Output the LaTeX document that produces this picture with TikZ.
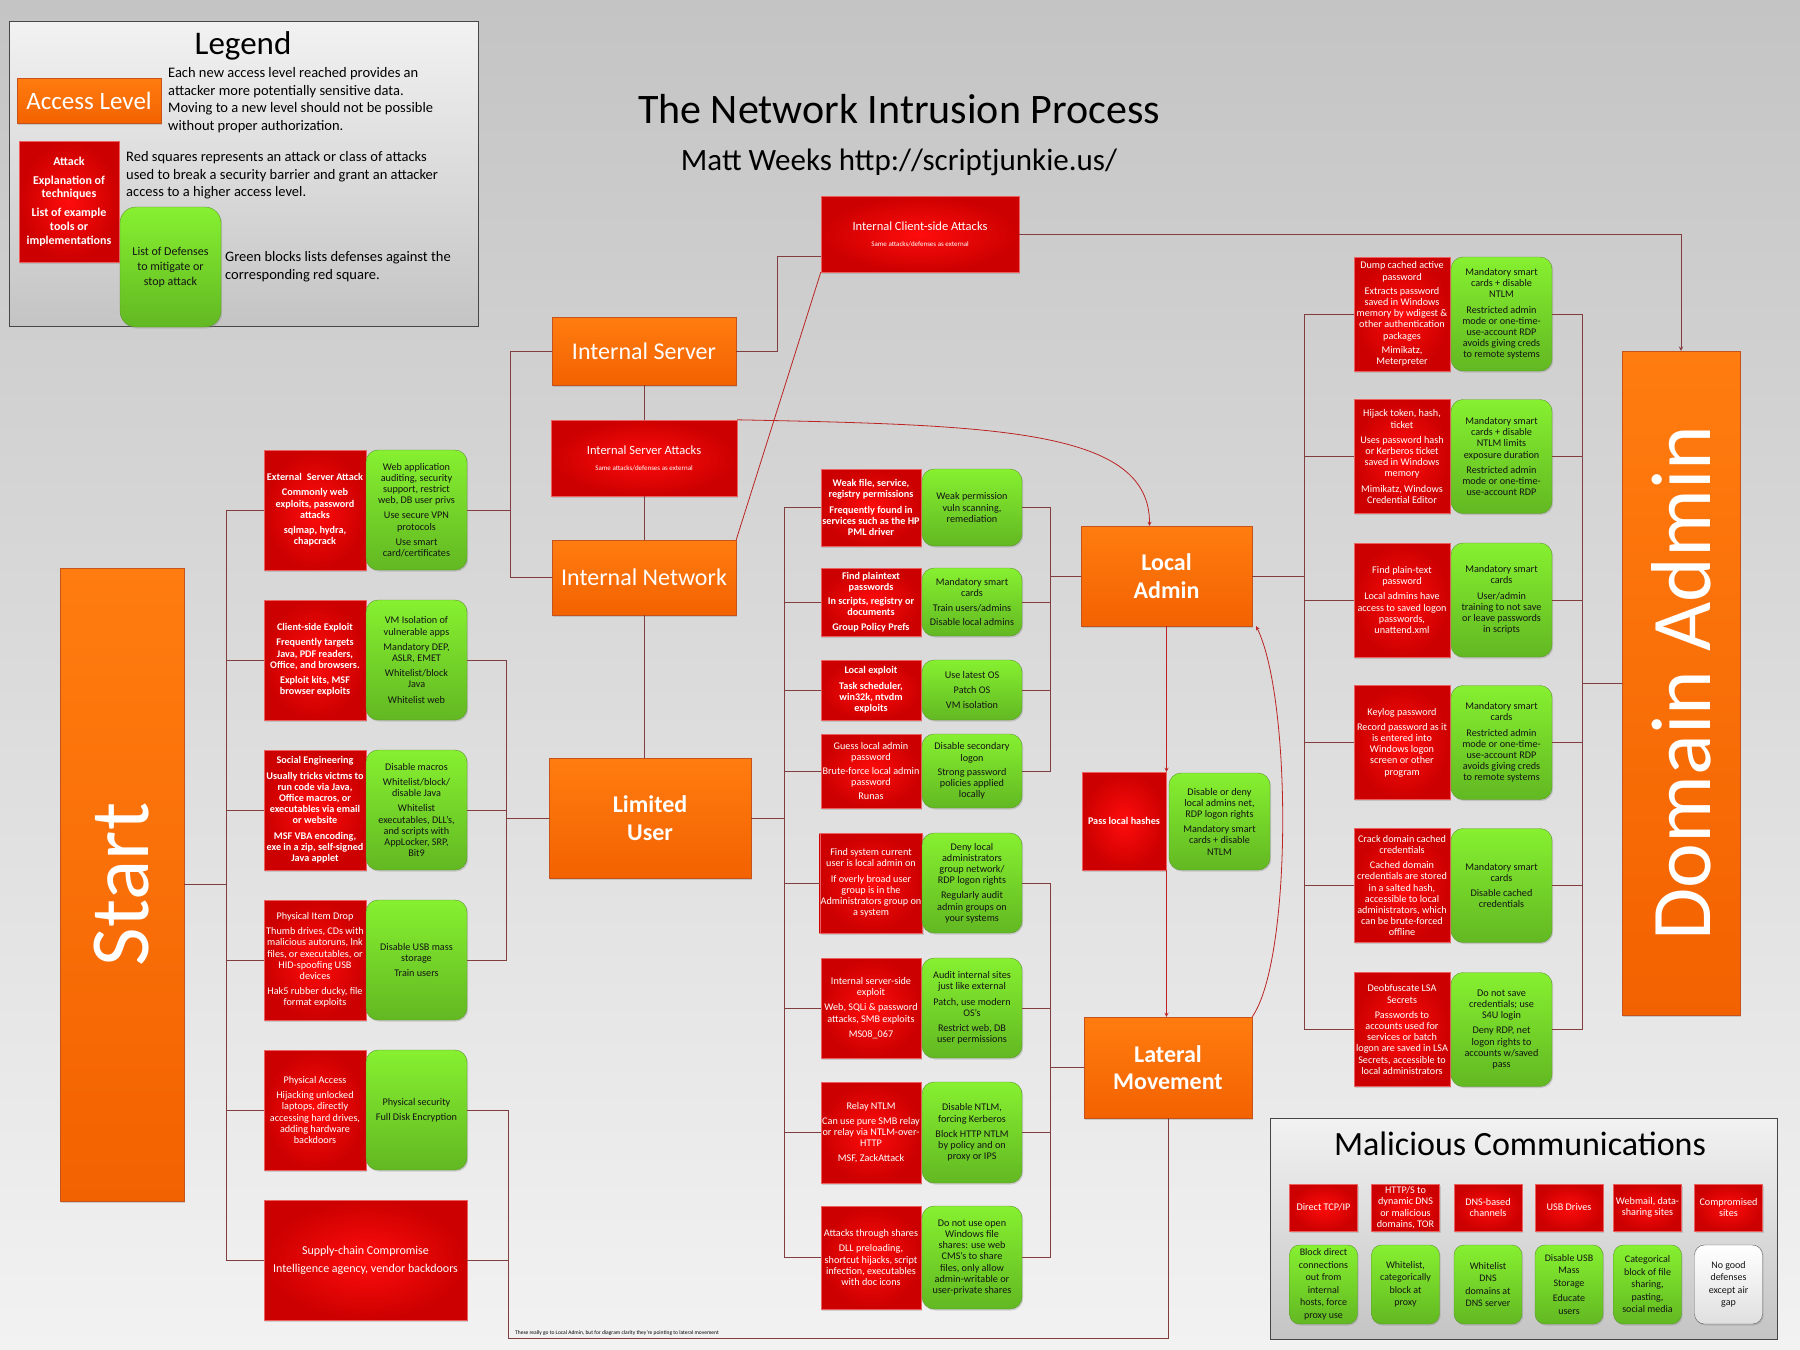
\documentclass[tikz,border=0pt]{standalone}
\usepackage{fontspec}
\setmainfont{Carlito}
\usetikzlibrary{shadows}

\definecolor{bgtop}{RGB}{196,196,196}
\definecolor{bgbot}{RGB}{242,242,242}
\definecolor{paneltop}{RGB}{242,242,242}
\definecolor{panelbot}{RGB}{196,196,196}
\definecolor{lvltop}{RGB}{255,124,16}
\definecolor{lvlbot}{RGB}{243,98,0}
\definecolor{lvlline}{RGB}{196,84,28}
\definecolor{atkin}{RGB}{255,12,12}
\definecolor{atkout}{RGB}{204,0,0}
\definecolor{atkline}{RGB}{236,96,96}
\definecolor{deftop}{RGB}{134,240,48}
\definecolor{defbot}{RGB}{98,184,34}
\definecolor{defline}{RGB}{96,150,48}
\definecolor{deftext}{RGB}{20,20,20}
\definecolor{linkbrown}{RGB}{128,62,62}
\definecolor{flowred}{RGB}{188,36,36}

\begin{document}
\begin{tikzpicture}[x=1pt, y=-1pt, >=stealth,
    soft/.style={drop shadow={opacity=0.3, shadow xshift=1.2pt, shadow yshift=-1.5pt}},
    level/.style={rectangle, draw=lvlline, top color=lvltop, bottom color=lvlbot, text=white, align=center, inner sep=0pt, font=\fontsize{24}{27.5}\selectfont, soft},
    attack/.style={rectangle, draw=atkline, inner color=atkin, outer color=atkout, text=white, align=center, inner sep=1pt, font=\fontsize{10.2}{11.2}\selectfont, soft},
    defense/.style={rectangle, rounded corners=12pt, draw=defline, top color=deftop, bottom color=defbot, text=deftext, align=center, inner sep=1pt, font=\fontsize{10.2}{11.2}\selectfont, soft},
    heavy/.style={font=\fontsize{10.2}{11.2}\selectfont\bfseries},
    panel/.style={rectangle, draw=gray!55!black, top color=paneltop, bottom color=panelbot},
    legtext/.style={anchor=north west, align=left, inner sep=0pt, font=\fontsize{14.5}{17.8}\selectfont},
    link/.style={draw=linkbrown, line width=0.9pt},
    flow/.style={draw=flowred, line width=0.8pt}
]

\shade[top color=bgtop, bottom color=bgbot] (0,0) rectangle (1800,1350);
\useasboundingbox (0,0) rectangle (1800,1350);

% Legend
\node[panel, minimum width=469pt, minimum height=305pt] (legend) at (243.5,173.5) {};
\node[font=\fontsize{33}{36}\selectfont] (legtitle) at (243,46) {Legend};
\node[level, minimum width=144pt, minimum height=45pt, font=\fontsize{25}{28}\selectfont] (legaccess) at (89,100.5) {Access Level};
\node[legtext] (legaccesstxt) at (168,67) {Each new access level reached provides an\\ attacker more potentially sensitive data.\\ Moving to a new level should not be possible\\ without proper authorization.};
\node[attack, minimum width=100pt, minimum height=121pt, font=\fontsize{12}{13.7}\selectfont\bfseries] (legattack) at (69,201.5) {Attack\\[5pt] Explanation of\\ techniques\\[5pt] List of example\\ tools or\\ implementations};
\node[legtext] (legattacktxt) at (126,151) {Red squares represents an attack or class of attacks\\ used to break a security barrier and grant an attacker\\ access to a higher access level.};
\node[defense, minimum width=101pt, minimum height=120pt, rounded corners=16pt, font=\fontsize{12}{15}\selectfont] (legdefense) at (170.5,267) {List of Defenses\\ to mitigate or\\ stop attack};
\node[legtext] (legdefensetxt) at (225,251) {Green blocks lists defenses against the\\ corresponding red square.};

% Title
\node[font=\fontsize{42}{46}\selectfont] (title) at (899,109) {The Network Intrusion Process};
\node[font=\fontsize{31}{34}\selectfont] (author) at (899,162) {Matt Weeks http://scriptjunkie.us/};

% Access levels
\node[level, minimum width=124pt, minimum height=633pt, font=\fontsize{84}{90}\selectfont] (start) at (122,884.5) {\rotatebox{90}{Start}};
\node[level, minimum width=184pt, minimum height=68pt] (intsrv) at (644,351) {Internal Server};
\node[level, minimum width=184pt, minimum height=75pt] (intnet) at (644,577.5) {Internal Network};
\node[level, minimum width=202pt, minimum height=120pt, font=\fontsize{24}{27.5}\selectfont\bfseries] (limited) at (650,818) {Limited\\ User};
\node[level, minimum width=171pt, minimum height=100pt, font=\fontsize{24}{27.5}\selectfont\bfseries] (locadmin) at (1166.5,576) {Local\\ Admin};
\node[level, minimum width=168pt, minimum height=101pt, font=\fontsize{24}{27.5}\selectfont\bfseries] (latmove) at (1168,1067.5) {Lateral\\ Movement};
\node[level, minimum width=118pt, minimum height=664pt, font=\fontsize{85}{90}\selectfont] (domadmin) at (1681,683) {\rotatebox{90}{Domain Admin}};

% Internal attacks
\node[attack, minimum width=186pt, minimum height=76pt, font=\fontsize{12.5}{14}\selectfont] (intsrvatk) at (644,458) {Internal Server Attacks\\[2pt] {\fontsize{7}{8}\selectfont Same attacks/defenses as external}};
\node[attack, minimum width=198pt, minimum height=76pt, font=\fontsize{12.5}{14}\selectfont] (intcliatk) at (920,234) {Internal Client-side Attacks\\[2pt] {\fontsize{7}{8}\selectfont Same attacks/defenses as external}};

% Initial attacks
\node[attack, heavy, minimum width=102pt, minimum height=120pt] (extatk) at (315,510) {External\enspace Server Attack\\[4pt] Commonly web\\ exploits, password\\ attacks\\[4pt] sqlmap, hydra,\\ chapcrack};
\node[defense, minimum width=101pt, minimum height=120pt] (extdef) at (416.5,510) {Web application\\ auditing, security\\ support, restrict\\ web, DB user privs\\[4pt] Use secure VPN\\ protocols\\[4pt] Use smart\\ card/certificates};
\node[attack, heavy, minimum width=102pt, minimum height=120pt] (cliatk) at (315,660) {Client-side Exploit\\[4pt] Frequently targets\\ Java, PDF readers,\\ Office, and browsers.\\[4pt] Exploit kits, MSF\\ browser exploits};
\node[defense, minimum width=101pt, minimum height=120pt] (clidef) at (416.5,660) {VM Isolation of\\ vulnerable apps\\[4pt] Mandatory DEP,\\ ASLR, EMET\\[4pt] Whitelist/block\\ Java\\[4pt] Whitelist web};
\node[attack, heavy, minimum width=102pt, minimum height=120pt] (socatk) at (315,810) {Social Engineering\\[4pt] Usually tricks victms to\\ run code via Java,\\ Office macros, or\\ executables via email\\ or website\\[4pt] MSF VBA encoding,\\ exe in a zip, self-signed\\ Java applet};
\node[defense, minimum width=101pt, minimum height=120pt] (socdef) at (416.5,810) {Disable macros\\[4pt] Whitelist/block/\\ disable Java\\[4pt] Whitelist\\ executables, DLL's,\\ and scripts with\\ AppLocker, SRP,\\ Bit9};
\node[attack, minimum width=102pt, minimum height=120pt] (dropatk) at (315,960) {Physical Item Drop\\[4pt] Thumb drives, CDs with\\ malicious autoruns, lnk\\ files, or executables, or\\ HID-spoofing USB\\ devices\\[4pt] Hak5 rubber ducky, file\\ format exploits};
\node[defense, minimum width=101pt, minimum height=120pt] (dropdef) at (416.5,960) {Disable USB mass\\ storage\\[4pt] Train users};
\node[attack, minimum width=102pt, minimum height=120pt] (physatk) at (315,1110) {Physical Access\\[4pt] Hijacking unlocked\\ laptops, directly\\ accessing hard drives,\\ adding hardware\\ backdoors};
\node[defense, minimum width=101pt, minimum height=120pt] (physdef) at (416.5,1110) {Physical security\\[4pt] Full Disk Encryption};
\node[attack, minimum width=203pt, minimum height=120pt, font=\fontsize{12}{18}\selectfont] (supply) at (365.5,1260) {Supply-chain Compromise\\ Intelligence agency, vendor backdoors};

% Attacks from limited user
\node[attack, heavy, minimum width=100pt, minimum height=77pt] (permatk) at (871,507.5) {Weak file, service,\\ registry permissions\\[4pt] Frequently found in\\ services such as the HP\\ PML driver};
\node[defense, minimum width=100pt, minimum height=77pt] (permdef) at (972,507.5) {Weak permission\\ vuln scanning,\\ remediation};
\node[attack, heavy, minimum width=100pt, minimum height=68pt] (plainatk) at (871,602) {Find plaintext\\ passwords\\[3pt] In scripts, registry or\\ documents\\[3pt] Group Policy Prefs};
\node[defense, minimum width=100pt, minimum height=68pt] (plaindef) at (972,602) {Mandatory smart\\ cards\\[3pt] Train users/admins\\[3pt] Disable local admins};
\node[attack, heavy, minimum width=100pt, minimum height=60pt] (lexpatk) at (871,690) {Local exploit\\[4pt] Task scheduler,\\ win32k, ntvdm\\ exploits};
\node[defense, minimum width=100pt, minimum height=60pt] (lexpdef) at (972,690) {Use latest OS\\[4pt] Patch OS\\[4pt] VM isolation};
\node[attack, minimum width=100pt, minimum height=74pt] (guessatk) at (871,771) {Guess local admin\\ password\\[3pt] Brute-force local admin\\ password\\[3pt] Runas};
\node[defense, minimum width=100pt, minimum height=74pt] (guessdef) at (972,771) {Disable secondary\\ logon\\[3pt] Strong password\\ policies applied\\ locally};
\node[attack, minimum width=100pt, minimum height=100pt] (curatk) at (871,883) {Find system current\\ user is local admin on\\[4pt] If overly broad user\\ group is in the\\ Administrators group on\\ a system};
\node[defense, minimum width=100pt, minimum height=100pt] (curdef) at (972,883) {Deny local\\ administrators\\ group network/\\ RDP logon rights\\[4pt] Regularly audit\\ admin groups on\\ your systems};
\node[attack, minimum width=100pt, minimum height=100pt] (srvxatk) at (871,1008) {Internal server-side\\ exploit\\[4pt] Web, SQLi \& password\\ attacks, SMB exploits\\[4pt] MS08\_067};
\node[defense, minimum width=100pt, minimum height=100pt] (srvxdef) at (972,1008) {Audit internal sites\\ just like external\\[4pt] Patch, use modern\\ OS's\\[4pt] Restrict web, DB\\ user permissions};
\node[attack, minimum width=100pt, minimum height=101pt] (relayatk) at (871,1132.5) {Relay NTLM\\[4pt] Can use pure SMB relay\\ or relay via NTLM-over-\\ HTTP\\[4pt] MSF, ZackAttack};
\node[defense, minimum width=100pt, minimum height=101pt] (relaydef) at (972,1132.5) {Disable NTLM,\\ forcing Kerberos\\[4pt] Block HTTP NTLM\\ by policy and on\\ proxy or IPS};
\node[attack, minimum width=100pt, minimum height=103pt] (shareatk) at (871,1257.5) {Attacks through shares\\[4pt] DLL preloading,\\ shortcut hijacks, script\\ infection, executables\\ with doc icons};
\node[defense, minimum width=100pt, minimum height=103pt] (sharedef) at (972,1257.5) {Do not use open\\ Windows file\\ shares: use web\\ CMS's to share\\ files, only allow\\ admin-writable or\\ user-private shares};

% Pass local hashes
\node[attack, heavy, minimum width=84pt, minimum height=98pt] (passatk) at (1124,821) {Pass local hashes};
\node[defense, minimum width=101pt, minimum height=97pt] (passdef) at (1219.5,821.5) {Disable or deny\\ local admins net,\\ RDP logon rights\\[4pt] Mandatory smart\\ cards + disable\\ NTLM};

% Attacks from local admin
\node[attack, minimum width=96pt, minimum height=114pt] (dumpatk) at (1402,314) {Dump cached active\\ password\\[3pt] Extracts password\\ saved in Windows\\ memory by wdigest \&\\ other authentication\\ packages\\[3pt] Mimikatz,\\ Meterpreter};
\node[defense, minimum width=101pt, minimum height=114pt] (dumpdef) at (1501.5,314) {Mandatory smart\\ cards + disable\\ NTLM\\[4pt] Restricted admin\\ mode or one-time-\\ use-account RDP\\ avoids giving creds\\ to remote systems};
\node[attack, minimum width=96pt, minimum height=114pt] (tokenatk) at (1402,456.5) {Hijack token, hash,\\ ticket\\[4pt] Uses password hash\\ or Kerberos ticket\\ saved in Windows\\ memory\\[4pt] Mimikatz, Windows\\ Credential Editor};
\node[defense, minimum width=101pt, minimum height=114pt] (tokendef) at (1501.5,456.5) {Mandatory smart\\ cards + disable\\ NTLM limits\\ exposure duration\\[4pt] Restricted admin\\ mode or one-time-\\ use-account RDP};
\node[attack, minimum width=96pt, minimum height=114pt] (ptextatk) at (1402,600) {Find plain-text\\ password\\[4pt] Local admins have\\ access to saved logon\\ passwords,\\ unattend.xml};
\node[defense, minimum width=101pt, minimum height=114pt] (ptextdef) at (1501.5,600) {Mandatory smart\\ cards\\[4pt] User/admin\\ training to not save\\ or leave passwords\\ in scripts};
\node[attack, minimum width=96pt, minimum height=114pt] (keylogatk) at (1402,742.5) {Keylog password\\[4pt] Record password as it\\ is entered into\\ Windows logon\\ screen or other\\ program};
\node[defense, minimum width=101pt, minimum height=114pt] (keylogdef) at (1501.5,742.5) {Mandatory smart\\ cards\\[4pt] Restricted admin\\ mode or one-time-\\ use-account RDP\\ avoids giving creds\\ to remote systems};
\node[attack, minimum width=96pt, minimum height=114pt] (crackatk) at (1402,885.5) {Crack domain cached\\ credentials\\[4pt] Cached domain\\ credentials are stored\\ in a salted hash,\\ accessible to local\\ administrators, which\\ can be brute-forced\\ offline};
\node[defense, minimum width=101pt, minimum height=114pt] (crackdef) at (1501.5,885.5) {Mandatory smart\\ cards\\[4pt] Disable cached\\ credentials};
\node[attack, minimum width=96pt, minimum height=114pt] (lsaatk) at (1402,1029.5) {Deobfuscate LSA\\ Secrets\\[4pt] Passwords to\\ accounts used for\\ services or batch\\ logon are saved in LSA\\ Secrets, accessible to\\ local administrators};
\node[defense, minimum width=101pt, minimum height=114pt] (lsadef) at (1501.5,1029.5) {Do not save\\ credentials; use\\ S4U login\\[4pt] Deny RDP, net\\ logon rights to\\ accounts w/saved\\ pass};

% Malicious communications
\node[panel, minimum width=507pt, minimum height=221pt] (malbox) at (1523.5,1228.5) {};
\node[font=\fontsize{34}{37}\selectfont] (maltitle) at (1520,1144) {Malicious Communications};
\node[attack, minimum width=68pt, minimum height=47pt] (tcpatk) at (1323.5,1207.5) {Direct TCP/IP};
\node[attack, minimum width=68pt, minimum height=47pt] (httpatk) at (1405.5,1207.5) {HTTP/S to\\ dynamic DNS\\ or malicious\\ domains, TOR};
\node[attack, minimum width=68pt, minimum height=47pt] (dnsatk) at (1488,1207.5) {DNS-based\\ channels};
\node[attack, minimum width=68pt, minimum height=47pt] (usbatk) at (1569,1207.5) {USB Drives};
\node[attack, minimum width=68pt, minimum height=47pt] (webmailatk) at (1647.5,1207.5) {Webmail, data-\\ sharing sites};
\node[attack, minimum width=68pt, minimum height=47pt] (compatk) at (1728.5,1207.5) {Compromised\\ sites};
\node[defense, rounded corners=10pt, minimum width=68pt, minimum height=79pt, font=\fontsize{10}{12.5}\selectfont] (tcpdef) at (1323.5,1284.5) {Block direct\\ connections\\ out from\\ internal\\ hosts, force\\ proxy use};
\node[defense, rounded corners=10pt, minimum width=68pt, minimum height=79pt, font=\fontsize{10}{12.5}\selectfont] (httpdef) at (1405.5,1284.5) {Whitelist,\\ categorically\\ block at\\ proxy};
\node[defense, rounded corners=10pt, minimum width=68pt, minimum height=79pt, font=\fontsize{10}{12.5}\selectfont] (dnsdef) at (1488,1284.5) {Whitelist\\ DNS\\ domains at\\ DNS server};
\node[defense, rounded corners=10pt, minimum width=68pt, minimum height=79pt, font=\fontsize{10}{12.5}\selectfont] (usbdef) at (1569,1284.5) {Disable USB\\ Mass\\ Storage\\[3pt] Educate\\ users};
\node[defense, rounded corners=10pt, minimum width=68pt, minimum height=79pt, font=\fontsize{10}{12.5}\selectfont] (webmaildef) at (1647.5,1284.5) {Categorical\\ block of file\\ sharing,\\ pasting,\\ social media};
\node[defense, rounded corners=10pt, draw=gray!70!black, top color=white, bottom color=gray!25, minimum width=68pt, minimum height=79pt, font=\fontsize{10}{12.5}\selectfont] (compdef) at (1728.5,1284.5) {No good\\ defenses\\ except air\\ gap};

% Start to initial attacks
\draw[link] (start.east) -- (226,884.5) coordinate (startbus);
\draw[link] (startbus |- extatk.west) -- (startbus |- supply.west);
\draw[link] (startbus |- extatk.west) -- (extatk.west);
\draw[link] (startbus |- cliatk.west) -- (cliatk.west);
\draw[link] (startbus |- socatk.west) -- (socatk.west);
\draw[link] (startbus |- dropatk.west) -- (dropatk.west);
\draw[link] (startbus |- physatk.west) -- (physatk.west);
\draw[link] (startbus |- supply.west) -- (supply.west);

% Initial attacks to next levels
\coordinate (srvbus) at (510,0);
\draw[link] (extdef.east) -- (srvbus |- extdef.east);
\draw[link] (intsrv.west) -| (srvbus |- intnet.west) -- (intnet.west);
\coordinate (userbus) at (506,0);
\draw[link] (clidef.east) -| (userbus |- dropdef.east) -- (dropdef.east);
\draw[link] (socdef.east) -- (userbus |- socdef.east);
\draw[link] (userbus |- limited.west) -- (limited.west);
\coordinate (lowbus) at (508,1338);
\draw[link] (physdef.east) -| (lowbus) -| (latmove.south);
\draw[link] (supply.east) -- (lowbus |- supply.east);
\node[anchor=south west, inner sep=0pt, font=\fontsize{5.5}{6}\selectfont] (note) at (515,1336) {These really go to Local Admin, but for diagram clarity they're pointing to lateral movement};

% Internal levels
\draw[link] (intsrv) -- (intsrvatk);
\draw[link] (intsrvatk) -- (intnet);
\draw[link] (intnet.south) -- (intnet.south |- limited.north);
\draw[link] (intsrv.east) -| (777,256) -- ([yshift=-22pt]intcliatk.west);
\draw[link,->] (intcliatk.east) -| (domadmin.north);
\draw[flow] (intnet.north east) -- (intcliatk.south west);
\draw[flow,->] (intsrvatk.north east) .. controls (1000,425) and (1150,430) .. ([xshift=-17pt]locadmin.north);

% Limited user to attacks
\draw[link] (limited.east) -- (784,818) coordinate (midbus);
\draw[link] (midbus |- permatk.west) -- (midbus |- shareatk.west);
\draw[link] (midbus |- permatk.west) -- (permatk.west);
\draw[link] (midbus |- plainatk.west) -- (plainatk.west);
\draw[link] (midbus |- lexpatk.west) -- (lexpatk.west);
\draw[link] (midbus |- guessatk.west) -- (guessatk.west);
\draw[link] (midbus |- curatk.west) -- (curatk.west);
\draw[link] (midbus |- srvxatk.west) -- (srvxatk.west);
\draw[link] (midbus |- relayatk.west) -- (relayatk.west);
\draw[link] (midbus |- shareatk.west) -- (shareatk.west);

% Attacks to local admin / lateral movement
\coordinate (ladbus) at (1050,0);
\draw[link] (permdef.east) -| (ladbus |- guessdef.east) -- (guessdef.east);
\draw[link] (plaindef.east) -- (ladbus |- plaindef.east);
\draw[link] (lexpdef.east) -- (ladbus |- lexpdef.east);
\draw[link] (ladbus |- locadmin.west) -- (locadmin.west);
\draw[link] (curdef.east) -| (ladbus |- sharedef.east) -- (sharedef.east);
\draw[link] (srvxdef.east) -- (ladbus |- srvxdef.east);
\draw[link] (relaydef.east) -- (ladbus |- relaydef.east);
\draw[link] (ladbus |- latmove.west) -- (latmove.west);

% Local admin and lateral movement
\draw[flow,->] (locadmin.south) -- (locadmin.south |- passatk.north);
\draw[flow,->] (locadmin.south |- passatk.south) -- (locadmin.south |- latmove.north);
\draw[flow,->] (latmove.north east) .. controls (1292,960) and (1292,700) .. ([xshift=4pt]locadmin.south east);

% Local admin to domain admin
\draw[link] (locadmin.east) -- (1304,576) coordinate (dabus);
\draw[link] (dabus |- dumpatk.west) -- (dabus |- lsaatk.west);
\draw[link] (dabus |- dumpatk.west) -- (dumpatk.west);
\draw[link] (dabus |- tokenatk.west) -- (tokenatk.west);
\draw[link] (dabus |- ptextatk.west) -- (ptextatk.west);
\draw[link] (dabus |- keylogatk.west) -- (keylogatk.west);
\draw[link] (dabus |- crackatk.west) -- (crackatk.west);
\draw[link] (dabus |- lsaatk.west) -- (lsaatk.west);
\coordinate (domainbus) at (1582,0);
\draw[link] (dumpdef.east) -| (domainbus |- lsadef.east) -- (lsadef.east);
\draw[link] (tokendef.east) -- (domainbus |- tokendef.east);
\draw[link] (ptextdef.east) -- (domainbus |- ptextdef.east);
\draw[link] (keylogdef.east) -- (domainbus |- keylogdef.east);
\draw[link] (crackdef.east) -- (domainbus |- crackdef.east);
\draw[link] (domainbus |- domadmin.west) -- (domadmin.west);

\end{tikzpicture}
\end{document}
